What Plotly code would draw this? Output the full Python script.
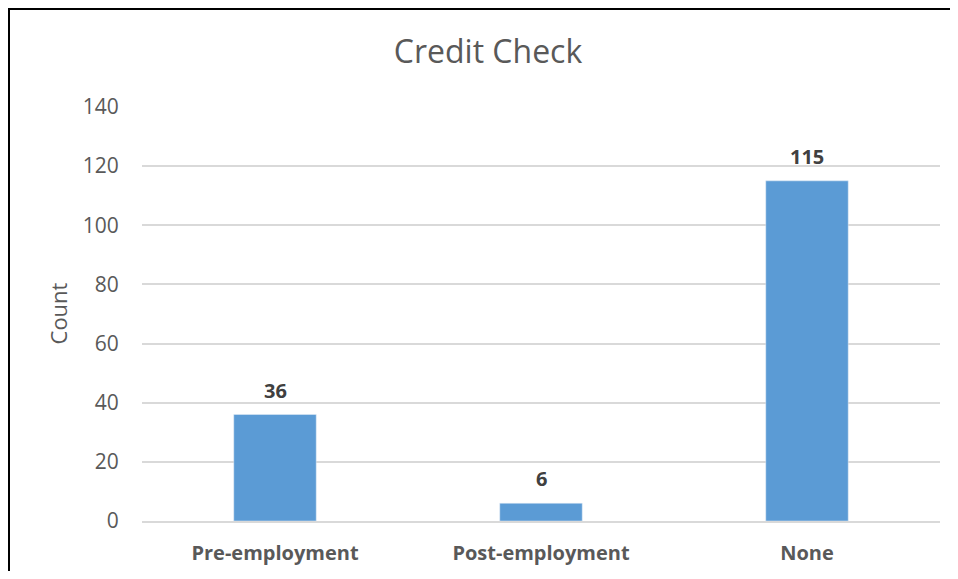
import plotly.graph_objects as go

categories = ["Pre-employment", "Post-employment", "None"]
counts = [36, 6, 115]
y_ticks = [0, 20, 40, 60, 80, 100, 120, 140]

# page body has an 8px margin; keep the figure inside the window height
W, H = 950, 563
L, R, T, B = 134, 18, 98, 50
pw, ph = W - L - R, H - T - B
FONT = "Open Sans"

fig = go.Figure(go.Bar(
    x=categories, y=counts, marker_color="#5B9BD5", width=0.31,
))
for c, v in zip(categories, counts):
    fig.add_annotation(x=c, y=v, text=str(v), showarrow=False, yanchor="bottom", yshift=9,
                       font=dict(family=FONT, size=20, color="#404040", weight="bold"))
fig.update_layout(
    width=W, height=H, margin=dict(l=L, r=R, t=T, b=B, autoexpand=False),
    paper_bgcolor="white", plot_bgcolor="white",
    title=dict(text="Credit Check", x=480 / W, xanchor="center", y=1 - 44 / H, yanchor="middle",
               font=dict(family=FONT, size=32, color="#595959")),
    showlegend=False,
    xaxis=dict(showgrid=False, showline=True, linecolor="#D9D9D9", linewidth=2, automargin=False,
               tickfont=dict(family=FONT, size=20, color="#595959", weight="bold"),
               ticks="outside", ticklen=13, tickcolor="rgba(0,0,0,0)"),
    yaxis=dict(range=[0, 140.3], tickvals=y_ticks, showgrid=True, gridcolor="#D9D9D9", gridwidth=2,
               zeroline=False, showline=False, automargin=False,
               tickfont=dict(family=FONT, size=21, color="#595959"),
               ticks="outside", ticklen=18, tickcolor="rgba(0,0,0,0)",
               title=dict(text="Count", font=dict(family=FONT, size=22, color="#595959"), standoff=9)),
    shapes=[
        dict(type="line", xref="paper", yref="paper",
             x0=(1 - L) / pw, x1=(1 - L) / pw, y0=(H - B - (H + 20)) / ph, y1=(H - B) / ph,
             line=dict(color="black", width=2)),
        dict(type="line", xref="paper", yref="paper",
             x0=(0 - L) / pw, x1=(W + 20 - L) / pw, y0=(H - B - 1) / ph, y1=(H - B - 1) / ph,
             line=dict(color="black", width=2)),
    ],
)
fig.write_html("out.html")
